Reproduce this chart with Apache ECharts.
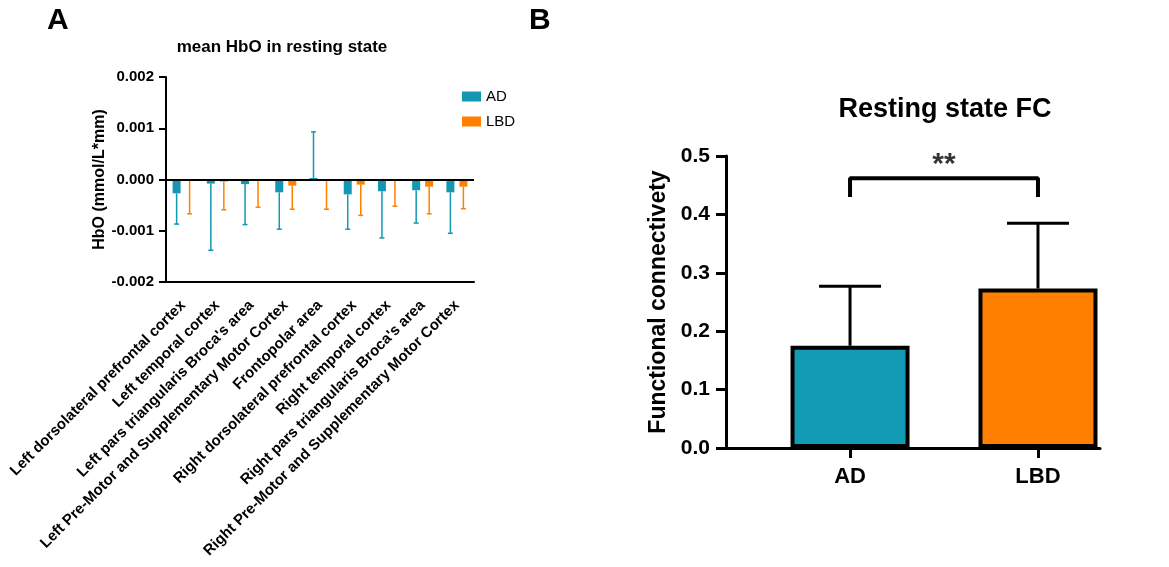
<!DOCTYPE html>
<html><head><meta charset="utf-8">
<script src="https://cdn.jsdelivr.net/npm/echarts@6/dist/echarts.min.js"></script>
<style>html,body{margin:0;padding:0;background:#fff}#c{width:1169px;height:567px}</style>
</head><body><div id="c"></div>
<script>
// Panel A data
const regions = ['Left dorsolateral prefrontal cortex','Left temporal cortex',"Left pars triangularis Broca's area",'Left Pre-Motor and Supplementary Motor Cortex','Frontopolar area','Right dorsolateral prefrontal cortex','Right temporal cortex',"Right pars triangularis Broca's area",'Right Pre-Motor and Supplementary Motor Cortex'];
const adMean = [-0.00027,-0.00008,-0.00009,-0.00025,0.00003,-0.00029,-0.00023,-0.00021,-0.00025];
const adErrEnd = [-0.00087,-0.00138,-0.00088,-0.00097,0.00093,-0.00097,-0.00114,-0.00085,-0.00105];
const lbdMean = [-0.00002,-0.00004,-0.00003,-0.00012,-0.00002,-0.0001,-0.00002,-0.00014,-0.00014];
const lbdErrEnd = [-0.00067,-0.00059,-0.00054,-0.00058,-0.00058,-0.0007,-0.00052,-0.00067,-0.00057];
// Panel B data
const groups = ['AD','LBD'];
const groupPos = [1,2];
const fcMean = [0.175,0.273];
const fcErrEnd = [0.277,0.385];
const bracket = [[1,0.43],[1,0.462],[2,0.462],[2,0.43]];
const sigPoint = [[1.5,0.462]];
const sigLabel = '**';

const FONT = "'Liberation Sans', Arial, sans-serif";
const TEAL = '#1497B2', ORANGE = '#FF8000';
const BAR_A = 8, GAP_A = 5;
const offA = (BAR_A + GAP_A) / 2;

function errA(name, means, ends, color, offset) {
  return {
    type:'custom', name, xAxisIndex:0, yAxisIndex:0, z:3, silent:true,
    data: means.map((m,i)=>[i,m,ends[i]]),
    renderItem(params, api){
      const p0 = api.coord([api.value(0), api.value(1)]);
      const p1 = api.coord([api.value(0), api.value(2)]);
      const x = p0[0] + offset;
      return {type:'group', children:[
        {type:'line', shape:{x1:x,y1:p0[1],x2:x,y2:p1[1]}, style:{stroke:color,lineWidth:1.5}},
        {type:'line', shape:{x1:x-2.5,y1:p1[1],x2:x+2.5,y2:p1[1]}, style:{stroke:color,lineWidth:1.5}}
      ]};
    }
  };
}

const chart = echarts.init(document.getElementById('c'), null, {renderer:'canvas'});
chart.setOption({
  animation:false,
  textStyle:{fontFamily:FONT},
  graphic:[
    {type:'text', x:47, y:6, style:{text:'A', font:'bold 30px '+FONT, fill:'#000'}},
    {type:'text', x:529, y:6, style:{text:'B', font:'bold 30px '+FONT, fill:'#000'}},
    {type:'text', x:282, y:39, style:{text:'mean HbO in resting state', font:'bold 17px '+FONT, fill:'#000', align:'center'}},
    {type:'text', x:945, y:96, style:{text:'Resting state FC', font:'bold 27px '+FONT, fill:'#000', align:'center'}}
  ],
  legend:{
    data:['AD','LBD'], orient:'vertical', left:457, top:84, icon:'rect',
    itemWidth:19, itemHeight:10, itemGap:10, selectedMode:false,
    textStyle:{fontSize:15, color:'#000', fontFamily:FONT}
  },
  grid:[
    {left:166, right:695, top:77, bottom:285},
    {left:726, right:69, top:156, bottom:119}
  ],
  xAxis:[
    {type:'category', gridIndex:0, data:regions,
     axisLine:{onZero:false, lineStyle:{color:'#000', width:2}},
     axisTick:{alignWithLabel:true, length:6, lineStyle:{color:'#000', width:2}},
     axisLabel:{rotate:45, interval:0, margin:21, color:'#000', fontWeight:'bold', fontSize:15, fontFamily:FONT}},
    {type:'value', gridIndex:1, min:0.34, max:2.33, splitLine:{show:false},
     axisLine:{onZero:false, lineStyle:{color:'#000', width:3}},
     axisTick:{customValues:groupPos, length:10, lineStyle:{color:'#000', width:3}},
     axisLabel:{customValues:groupPos, formatter:v=>groups[groupPos.indexOf(Math.round(v))], margin:18, color:'#000', fontWeight:'bold', fontSize:22, fontFamily:FONT}}
  ],
  yAxis:[
    {type:'value', gridIndex:0, min:-0.002, max:0.002, interval:0.001,
     name:'HbO (mmol/L*mm)', nameLocation:'middle', nameGap:58,
     nameTextStyle:{color:'#000', fontWeight:'bold', fontSize:16, fontFamily:FONT},
     splitLine:{show:false},
     axisLine:{show:true, lineStyle:{color:'#000', width:2}},
     axisTick:{show:true, length:7, lineStyle:{color:'#000', width:2}},
     axisLabel:{formatter:v=>v.toFixed(3), margin:12, color:'#000', fontWeight:'bold', fontSize:15, fontFamily:FONT}},
    {type:'value', gridIndex:1, min:0, max:0.5, interval:0.1,
     name:'Functional connectivety', nameLocation:'middle', nameGap:56,
     nameTextStyle:{color:'#000', fontWeight:'bold', fontSize:23, fontFamily:FONT},
     splitLine:{show:false},
     axisLine:{show:true, lineStyle:{color:'#000', width:3}},
     axisTick:{show:true, length:10, lineStyle:{color:'#000', width:3}},
     axisLabel:{formatter:v=>v.toFixed(1), margin:16, color:'#000', fontWeight:'bold', fontSize:21, fontFamily:FONT}}
  ],
  series:[
    {type:'bar', name:'AD', xAxisIndex:0, yAxisIndex:0, data:adMean, barWidth:BAR_A, barGap:(GAP_A/BAR_A*100)+'%',
     itemStyle:{color:TEAL}, silent:true,
     markLine:{silent:true, symbol:'none', label:{show:false}, lineStyle:{color:'#000', width:2, type:'solid'}, data:[{yAxis:0}]}},
    {type:'bar', name:'LBD', xAxisIndex:0, yAxisIndex:0, data:lbdMean, barWidth:BAR_A,
     itemStyle:{color:ORANGE}, silent:true},
    errA('AD SD', adMean, adErrEnd, TEAL, -offA),
    errA('LBD SD', lbdMean, lbdErrEnd, ORANGE, offA),
    {type:'bar', name:'FC', xAxisIndex:1, yAxisIndex:1, barWidth:119, silent:true,
     data: fcMean.map((m,i)=>({value:[groupPos[i], m], itemStyle:{color: i===0?'#139AB5':ORANGE}})),
     itemStyle:{borderColor:'#000', borderWidth:4}},
    {type:'custom', name:'FC SD', xAxisIndex:1, yAxisIndex:1, z:1, silent:true,
     data: fcMean.map((m,i)=>[groupPos[i], m, fcErrEnd[i]]),
     renderItem(params, api){
       const p0 = api.coord([api.value(0), api.value(1)]);
       const p1 = api.coord([api.value(0), api.value(2)]);
       return {type:'group', children:[
         {type:'line', shape:{x1:p0[0],y1:p0[1],x2:p1[0],y2:p1[1]}, style:{stroke:'#000',lineWidth:3}},
         {type:'line', shape:{x1:p1[0]-31,y1:p1[1],x2:p1[0]+31,y2:p1[1]}, style:{stroke:'#000',lineWidth:3}}
       ]};
     }},
    {type:'line', name:'bracket', xAxisIndex:1, yAxisIndex:1, data:bracket, symbol:'none', silent:true,
     lineStyle:{color:'#000', width:4}, z:5},
    {type:'scatter', name:'sig', xAxisIndex:1, yAxisIndex:1, data:sigPoint, symbolSize:0, silent:true,
     label:{show:true, position:'top', distance:-2, formatter:sigLabel, color:'#000', fontWeight:'bold', fontSize:30, fontFamily:FONT}}
  ]
});
</script></body></html>
